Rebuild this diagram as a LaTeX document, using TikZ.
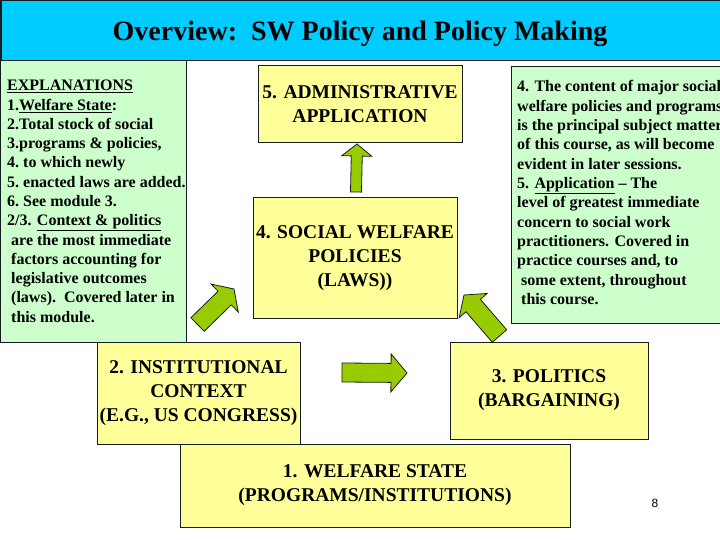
\documentclass[tikz,border=0pt]{standalone}
\usepackage{fontspec}
\setmainfont{Liberation Serif}
\setsansfont{Liberation Sans}
\usetikzlibrary{calc}
\definecolor{titlecyan}{RGB}{0,204,255}
\definecolor{panelgreen}{RGB}{204,255,204}
\definecolor{boxyellow}{RGB}{255,255,153}
\definecolor{arrowgreen}{RGB}{153,204,0}
\definecolor{edgedark}{RGB}{20,30,30}
% #1 tail, #2 tip, #3 half shaft, #4 half head, #5 head length
\newcommand\blockarrow[5]{%
  \coordinate (#1-b) at ($(#2)!#5!(#1)$);
  \draw[blockarr] ($(#1)!#3!90:(#2)$) -- ($(#1-b)!#3!90:(#2)$) -- ($(#1-b)!#4!90:(#2)$)
    -- (#2) -- ($(#1-b)!#4!-90:(#2)$) -- ($(#1-b)!#3!-90:(#2)$) -- ($(#1)!#3!-90:(#2)$) -- cycle;}
\begin{document}
\begin{tikzpicture}[x=1pt,y=-1pt,
  box/.style={draw=edgedark, line width=1pt, fill=boxyellow, inner sep=0pt, align=center,
    font=\bfseries\fontsize{19.5}{24}\selectfont},
  panel/.style={draw=edgedark, line width=1pt, fill=panelgreen, inner sep=0pt},
  ptext/.style={anchor=base west, inner sep=0pt, font=\bfseries\fontsize{16}{19}\selectfont},
  blockarr/.style={draw=edgedark, line width=0.8pt, fill=arrowgreen, line join=miter}]
\useasboundingbox (0,0) rectangle (720,540);
\fill[white] (0,0) rectangle (720,540);
% title bar
\node[draw=edgedark, line width=1.5pt, fill=titlecyan, minimum width=720, minimum height=60, anchor=north west, inner sep=0pt] (title) at (0,0) {};
\node[anchor=base, inner sep=0pt, font=\bfseries\fontsize{28}{32}\selectfont] (titletext) at (360,40.5) {Overview:\ \ SW Policy and Policy Making};
% left panel
\node[panel, minimum width=186, minimum height=282, anchor=north west] (expl) at (0,60) {};
\node[ptext] (e1) at (7,91) {\underline{EXPLANATIONS}};
\node[ptext] (e2) at (7,110.25) {1.\underline{Welfare State}:};
\node[ptext] (e3) at (7,129.5) {2.Total stock of social};
\node[ptext] (e4) at (7,148.75) {3.programs \& policies,};
\node[ptext] (e5) at (7,168) {4.\ to which newly};
\node[ptext] (e6) at (7,187.25) {5.\ enacted laws are added.};
\node[ptext] (e7) at (7,206.5) {6.\ See module 3.};
\node[ptext] (e8) at (7,225.75) {2/3. \underline{Context \& politics}};
\node[ptext] (e9) at (11,245) {are the most immediate};
\node[ptext] (e10) at (11,264.25) {factors accounting for};
\node[ptext] (e11) at (11,283.5) {legislative outcomes};
\node[ptext] (e12) at (11,302.75) {(laws).\ \ Covered later in};
\node[ptext] (e13) at (11,322) {this module.};
% right panel
\node[panel, minimum width=215, minimum height=257, anchor=north west] (notes) at (511,66) {};
\node[ptext] (n1) at (517,92) {4. The content of major social};
\node[ptext] (n2) at (517,111.3) {welfare policies and programs};
\node[ptext] (n3) at (517,130.6) {is the principal subject matter};
\node[ptext] (n4) at (517,149.9) {of this course, as will become};
\node[ptext] (n5) at (517,169.2) {evident in later sessions.};
\node[ptext] (n6) at (517,188.5) {5. \underline{Application} -- The};
\node[ptext] (n7) at (517,207.8) {level of greatest immediate};
\node[ptext] (n8) at (517,227.1) {concern to social work};
\node[ptext] (n9) at (517,246.4) {practitioners. Covered in};
\node[ptext] (n10) at (517,265.7) {practice courses and, to};
\node[ptext] (n11) at (521,285) {some extent, throughout};
\node[ptext] (n12) at (521,304.3) {this course.};
% yellow boxes
\node[box, minimum width=204, minimum height=77] (b5) at (360,104.5) {5. ADMINISTRATIVE\\APPLICATION};
\node[box, minimum width=204, minimum height=120] (b4) at (355,258) {4. SOCIAL WELFARE\\POLICIES\\(LAWS))};
\node[box, minimum width=203, minimum height=102] (b2) at (198.5,393) {2. INSTITUTIONAL\\CONTEXT\\(E.G., US CONGRESS)};
\node[box, minimum width=198, minimum height=97] (b3) at (549,390.5) {3. POLITICS\\(BARGAINING)};
\node[box, minimum width=390, minimum height=83] (b1) at (375,485.5) {1. WELFARE STATE\\(PROGRAMS/INSTITUTIONS)};
% block arrows
\coordinate (upt) at (356,192); \coordinate (uph) at (357,144);
\coordinate (rt) at (342,372.5); \coordinate (rh) at (407,373);
\coordinate (dlt) at (197.5,324.5); \coordinate (dlh) at (234,289);
\coordinate (drt) at (499.5,336); \coordinate (drh) at (464,295);
\blockarrow{upt}{uph}{5.5pt}{15pt}{12pt}
\blockarrow{rt}{rh}{9.5pt}{19pt}{16pt}
\blockarrow{dlt}{dlh}{9.5pt}{19.5pt}{13pt}
\blockarrow{drt}{drh}{9.5pt}{18.5pt}{14pt}
% page number
\node[anchor=base, inner sep=0pt, font=\sffamily\fontsize{12}{14}\selectfont] (pg) at (655,507.5) {8};
\end{tikzpicture}
\end{document}
